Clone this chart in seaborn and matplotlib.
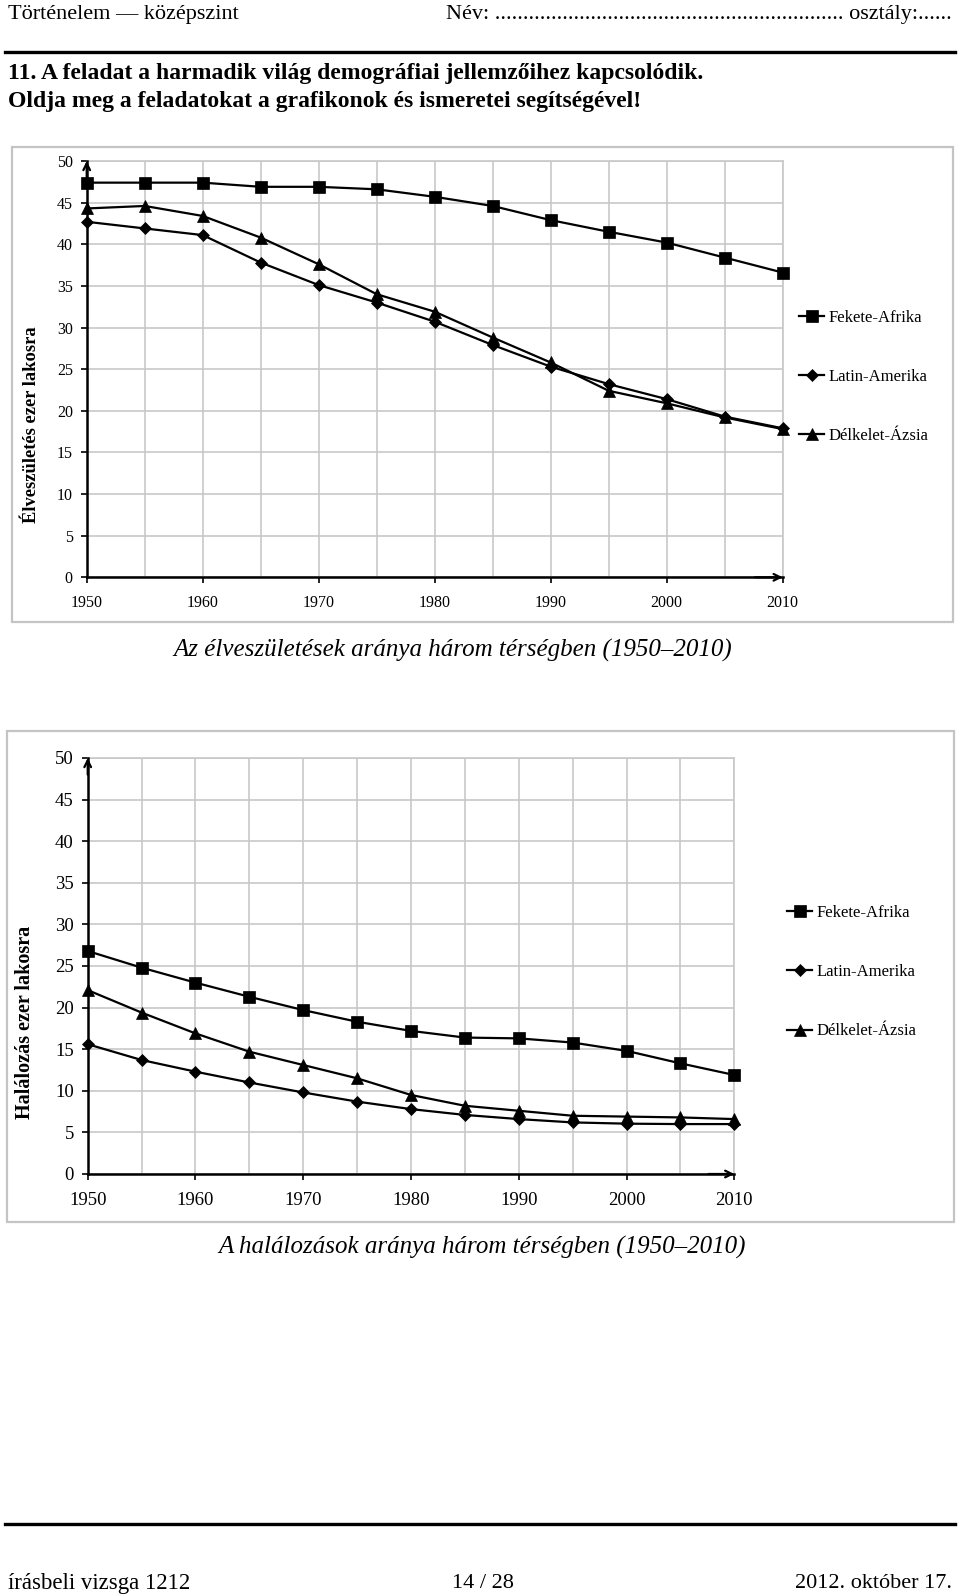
import numpy as np
import pandas as pd
import seaborn as sns
import matplotlib
matplotlib.use("Agg")
from matplotlib import pyplot as plt
from matplotlib.patches import Rectangle
from matplotlib.lines import Line2D

years = [1950, 1955, 1960, 1965, 1970, 1975, 1980, 1985, 1990, 1995, 2000, 2005, 2010]
regions = ["Fekete-Afrika", "Latin-Amerika", "Délkelet-Ázsia"]

# élveszületés ezer lakosra
birth_fekete = [47.4, 47.4, 47.4, 46.9, 46.9, 46.6, 45.7, 44.6, 42.9, 41.5, 40.2, 38.4, 36.6]
birth_latin = [42.7, 41.9, 41.1, 37.8, 35.1, 33.0, 30.7, 27.9, 25.3, 23.2, 21.4, 19.3, 17.9]
birth_delkelet = [44.3, 44.6, 43.4, 40.8, 37.6, 34.0, 31.9, 28.8, 25.8, 22.4, 20.9, 19.2, 17.8]

# halálozás ezer lakosra
death_fekete = [26.8, 24.8, 23.0, 21.3, 19.7, 18.3, 17.2, 16.4, 16.3, 15.8, 14.8, 13.3, 11.9]
death_latin = [15.6, 13.7, 12.3, 11.0, 9.8, 8.7, 7.8, 7.1, 6.6, 6.2, 6.05, 6.0, 6.0]
death_delkelet = [22.1, 19.4, 16.9, 14.7, 13.1, 11.5, 9.5, 8.2, 7.6, 7.0, 6.9, 6.8, 6.6]

marker_style = {"Fekete-Afrika": ("s", 8), "Latin-Amerika": ("D", 6), "Délkelet-Ázsia": ("^", 8)}

SERIF = ["Liberation Serif", "DejaVu Serif"]
plt.rcParams["font.family"] = SERIF

W, H = 960, 1595
fig = plt.figure(figsize=(W / 100, H / 100), dpi=100)


def fx(px):
    return px / W


def fy(py):
    return 1 - py / H


def long_df(a, b, c):
    rows = []
    for reg, vals in zip(regions, [a, b, c]):
        for yr, v in zip(years, vals):
            rows.append((yr, v, reg))
    return pd.DataFrame(rows, columns=["year", "value", "region"])


def draw_chart(box, ax_px, df, ylabel, tick_fs, label_fs, label_xy, legend_xy):
    # szürke keret
    x0, y0, x1, y1 = box
    fig.patches.append(Rectangle((fx(x0), fy(y1)), fx(x1 - x0), (y1 - y0) / H,
                                 transform=fig.transFigure, fill=False,
                                 ec="#c4c4c4", lw=1.6))
    l, t, r, b = ax_px
    ax = fig.add_axes([fx(l), fy(b), fx(r - l), (b - t) / H])
    for reg in regions:
        m, ms = marker_style[reg]
        sub = df[df.region == reg]
        sns.lineplot(data=sub, x="year", y="value", marker=m, markersize=ms,
                     color="black", lw=1.6, markeredgecolor="black",
                     markeredgewidth=0.5, label=reg, ax=ax, clip_on=False, zorder=5)
    ax.set_xlim(1950, 2010)
    ax.set_ylim(0, 50)
    ax.set_xticks(range(1950, 2011, 10))
    ax.set_xticks(range(1950, 2011, 5), minor=True)
    ax.set_yticks(range(0, 51, 5))
    ax.grid(which="both", color="#c8c8c8", lw=1.2)
    ax.set_axisbelow(True)
    ax.tick_params(axis="x", which="major", direction="out", length=4, width=1.2,
                   labelsize=tick_fs, pad=9)
    ax.tick_params(axis="x", which="minor", length=0)
    ax.tick_params(axis="y", direction="out", length=4, width=1.2,
                   labelsize=tick_fs, pad=6)
    for s in ["top", "right"]:
        ax.spines[s].set_color("#c8c8c8")
        ax.spines[s].set_linewidth(1.2)
    for s in ["left", "bottom"]:
        ax.spines[s].set_color("black")
        ax.spines[s].set_linewidth(1.8)
        ax.spines[s].set_zorder(4)
    ax.annotate("", xy=(0, 1.0), xytext=(0, 0.96), xycoords="axes fraction",
                arrowprops=dict(arrowstyle="->", lw=1.6, color="black",
                                mutation_scale=12, shrinkA=0, shrinkB=0))
    ax.annotate("", xy=(1.0, 0), xytext=(0.96, 0), xycoords="axes fraction",
                arrowprops=dict(arrowstyle="->", lw=1.6, color="black",
                                mutation_scale=12, shrinkA=0, shrinkB=0))
    ax.set_xlabel("")
    ax.set_ylabel(ylabel, fontsize=label_fs, fontweight="bold")
    ax.yaxis.set_label_coords(*label_xy)
    ax.legend(loc="center left", bbox_to_anchor=(fx(legend_xy[0]), fy(legend_xy[1])),
              bbox_transform=fig.transFigure, frameon=False, fontsize=12,
              handlelength=1.5, handletextpad=0.25, labelspacing=2.6,
              borderpad=0, borderaxespad=0)
    return ax


draw_chart((12, 147, 953, 622), (86.7, 161, 782.7, 577.3),
           long_df(birth_fekete, birth_latin, birth_delkelet),
           "Élveszületés ezer lakosra", 11.5, 13.3, (-0.067, 0.366), (799, 377))
draw_chart((7, 731, 954, 1222), (87.7, 758, 734.3, 1174),
           long_df(death_fekete, death_latin, death_delkelet),
           "Halálozás ezer lakosra", 13.5, 14.5, (-0.0815, 0.365), (787, 972))

# feliratok
fig.text(fx(453), fy(650), "Az élveszületések aránya három térségben (1950–2010)",
         ha="center", va="center", fontsize=18, style="italic")
fig.text(fx(482), fy(1247), "A halálozások aránya három térségben (1950–2010)",
         ha="center", va="center", fontsize=18, style="italic")

# fejléc
fig.text(fx(8), fy(14), "Történelem — középszint", ha="left", va="center", fontsize=16)
fig.text(fx(952), fy(14), "Név: " + "." * 62 + " osztály:......",
         ha="right", va="center", fontsize=16)
fig.add_artist(Line2D([fx(5), fx(955)], [fy(52), fy(52)], transform=fig.transFigure,
                      color="black", lw=2.4))
fig.text(fx(8), fy(73), "11. A feladat a harmadik világ demográfiai jellemzőihez kapcsolódik.",
         ha="left", va="center", fontsize=17, fontweight="bold")
fig.text(fx(8), fy(101), "Oldja meg a feladatokat a grafikonok és ismeretei segítségével!",
         ha="left", va="center", fontsize=17, fontweight="bold")

# lábléc
fig.add_artist(Line2D([fx(5), fx(955)], [fy(1524), fy(1524)], transform=fig.transFigure,
                      color="black", lw=2.4))
fig.text(fx(8), fy(1583), "írásbeli vizsga 1212", ha="left", va="center", fontsize=16.5)
fig.text(fx(483), fy(1583), "14 / 28", ha="center", va="center", fontsize=16)
fig.text(fx(952), fy(1583), "2012. október 17.", ha="right", va="center", fontsize=16)

fig.savefig("out.png", dpi=100)
